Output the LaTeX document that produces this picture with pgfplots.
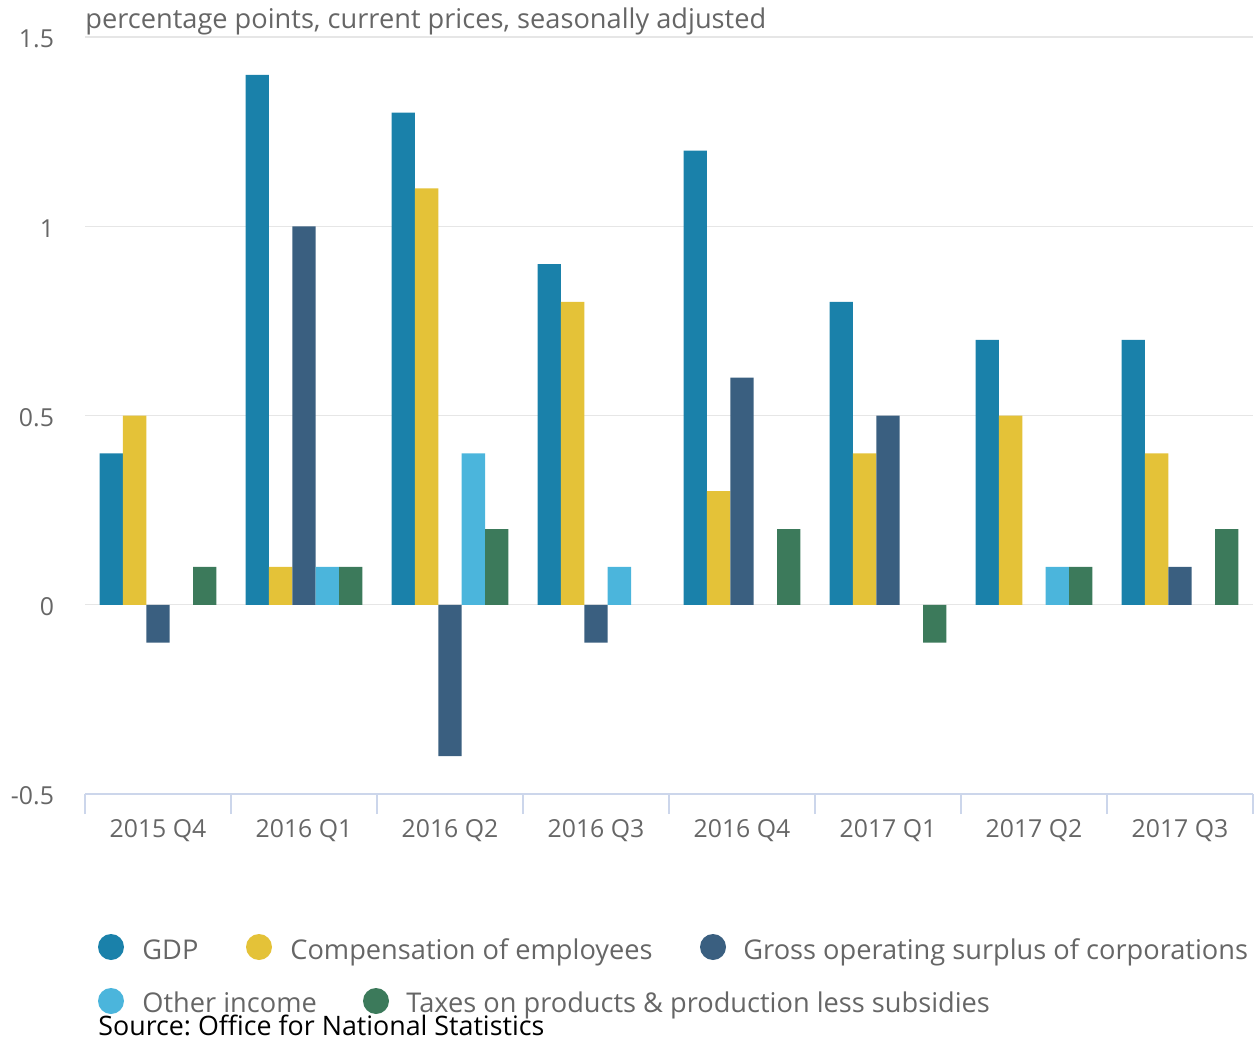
\documentclass[border=0pt]{standalone}
\usepackage{fontspec}
\setmainfont{Open Sans}
\usepackage{pgfplots}
\pgfplotsset{compat=1.18}
\definecolor{cgdp}{HTML}{1A81AA}
\definecolor{ccomp}{HTML}{E4C238}
\definecolor{cgos}{HTML}{3A5F80}
\definecolor{coth}{HTML}{4BB5DC}
\definecolor{ctax}{HTML}{3C7A5B}
\definecolor{ctxt}{HTML}{666666}
\definecolor{cgrid}{HTML}{E6E6E6}
\definecolor{caxis}{HTML}{CCD6EB}
\begin{document}
\begin{tikzpicture}
\begin{axis}[
  at={(42.5pt,-397pt)}, anchor=south west,
  scale only axis, width=584pt, height=378.5pt,
  xmin=-0.5, xmax=7.5, ymin=-0.5, ymax=1.5,
  ybar, bar width=0.16,
  axis x line*=bottom, axis y line*=left,
  x axis line style={draw=caxis, line width=0.8pt},
  y axis line style={draw=none},
  xtick={-0.5,0.5,...,7.5},
  xticklabels={},
  xtick style={draw=caxis, line width=0.8pt},
  xtick align=outside,
  x tick style={/pgfplots/major tick length=10pt},
  extra x ticks={0,...,7},
  extra x tick labels={2015 Q4,2016 Q1,2016 Q2,2016 Q3,2016 Q4,2017 Q1,2017 Q2,2017 Q3},
  extra x tick style={major tick length=0pt, xtick style={draw=none}, grid=none},
  ytick={-0.5,0,0.5,1,1.5},
  ytick style={draw=none},
  ymajorgrids, grid style={draw=cgrid, line width=0.6pt},
  /pgf/number format/assume math mode=true,
  /pgf/number format/fixed,
  yticklabel style={font=\fontsize{12.4}{14}\selectfont, text=ctxt, xshift=-12pt, yshift=-1pt},
  xticklabel style={font=\fontsize{12.4}{14}\selectfont, text=ctxt, yshift=-9pt},
  every axis plot/.append style={draw=none},
  clip=false,
]
\addplot[fill=cgdp, bar shift=-0.32] coordinates {(0,0.4) (1,1.4) (2,1.3) (3,0.9) (4,1.2) (5,0.8) (6,0.7) (7,0.7)};
\addplot[fill=ccomp, bar shift=-0.16] coordinates {(0,0.5) (1,0.1) (2,1.1) (3,0.8) (4,0.3) (5,0.4) (6,0.5) (7,0.4)};
\addplot[fill=cgos, bar shift=0] coordinates {(0,-0.1) (1,1.0) (2,-0.4) (3,-0.1) (4,0.6) (5,0.5) (7,0.1)};
\addplot[fill=coth, bar shift=0.16] coordinates {(1,0.1) (2,0.4) (3,0.1) (6,0.1)};
\addplot[fill=ctax, bar shift=0.32] coordinates {(0,0.1) (1,0.1) (2,0.2) (4,0.2) (5,-0.1) (6,0.1) (7,0.2)};
\end{axis}
\begin{scope}[x=0.5pt,y=-0.5pt]
\node[anchor=base west, inner sep=0pt, text=ctxt, font=\fontsize{13.6}{16}\selectfont] at (85,29) {percentage points, current prices, seasonally adjusted};
\begin{scope}[every node/.style={anchor=base west, inner sep=0pt, text=ctxt, font=\fontsize{13.6}{16}\selectfont}]
\fill[cgdp] (111,947) circle (6.5pt);
\node at (142,959) {GDP};
\fill[ccomp] (259,947) circle (6.5pt);
\node at (290,959) {Compensation of employees};
\fill[cgos] (713,947) circle (6.5pt);
\node at (743,959) {Gross operating surplus of corporations};
\fill[coth] (111,1001) circle (6.5pt);
\node at (142,1012) {Other income};
\fill[ctax] (376,1001) circle (6.5pt);
\node at (406,1012) {Taxes on products \& production less subsidies};
\end{scope}
\node[anchor=base west, inner sep=0pt, font=\fontsize{13.4}{16}\selectfont] at (98,1035) {Source:\ Office for National Statistics};
\pgfresetboundingbox
\path[use as bounding box] (0,0) rectangle (1254,1043);
\end{scope}
\end{tikzpicture}
\end{document}
